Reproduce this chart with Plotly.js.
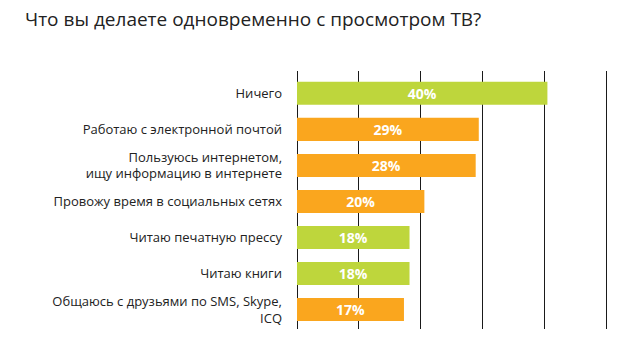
<!DOCTYPE html>
<html>
<head>
<meta charset="utf-8">
<script src="https://cdn.plot.ly/plotly-3.0.1.min.js"></script>
<style>html,body{margin:0;padding:0;background:#fff;}#chart{width:641px;height:362px;}</style>
</head>
<body>
<div id="chart"></div>
<script>
const categories = [
  "Ничего",
  "Работаю с электронной почтой",
  "Пользуюсь интернетом,<br>ищу информацию в интернете",
  "Провожу время в социальных сетях",
  "Читаю печатную прессу",
  "Читаю книги",
  "Общаюсь с друзьями по SMS, Skype,<br>ICQ"
];
const values = [40.5, 29.4, 28.9, 20.6, 18.2, 18.2, 17.3];
const valueLabels = ["40%", "29%", "28%", "20%", "18%", "18%", "17%"];
const barColors = ["#BED63C", "#FAA61E", "#FAA61E", "#FAA61E", "#BED63C", "#BED63C", "#FAA61E"];

const trace = {
  type: 'bar',
  orientation: 'h',
  x: values,
  y: categories,
  text: valueLabels,
  textposition: 'inside',
  insidetextanchor: 'middle',
  constraintext: 'none',
  textfont: {family: 'Open Sans, sans-serif', size: 14, color: '#ffffff', weight: 'bold'},
  marker: {color: barColors},
  hoverinfo: 'none',
  cliponaxis: false
};

const layout = {
  width: 641,
  height: 362,
  margin: {l: 297, r: 33, t: 71, b: 33, pad: 0},
  paper_bgcolor: '#ffffff',
  plot_bgcolor: '#ffffff',
  showlegend: false,
  bargap: 0.36,
  title: {
    text: 'Что вы делаете одновременно с просмотром ТВ?',
    font: {family: 'Open Sans, sans-serif', size: 19, color: '#222222'},
    xref: 'container', yref: 'container',
    x: 25/641, xanchor: 'left',
    y: 1 - 13/362, yanchor: 'top'
  },
  xaxis: {
    range: [0, 50.3],
    dtick: 10,
    tick0: 0,
    showgrid: true,
    gridcolor: '#1a1a1a',
    gridwidth: 1,
    zeroline: true,
    zerolinecolor: '#1a1a1a',
    zerolinewidth: 1,
    showticklabels: false,
    ticks: '',
    showline: false,
    fixedrange: true
  },
  yaxis: {
    type: 'category',
    range: [6.54, -0.62],
    showgrid: false,
    zeroline: false,
    showline: false,
    ticks: '',
    ticklabelstandoff: 14,
    tickfont: {family: 'Open Sans, sans-serif', size: 13, color: '#222222'},
    fixedrange: true
  }
};

Plotly.newPlot('chart', [trace], layout, {displayModeBar: false, staticPlot: true});
</script>
</body>
</html>
